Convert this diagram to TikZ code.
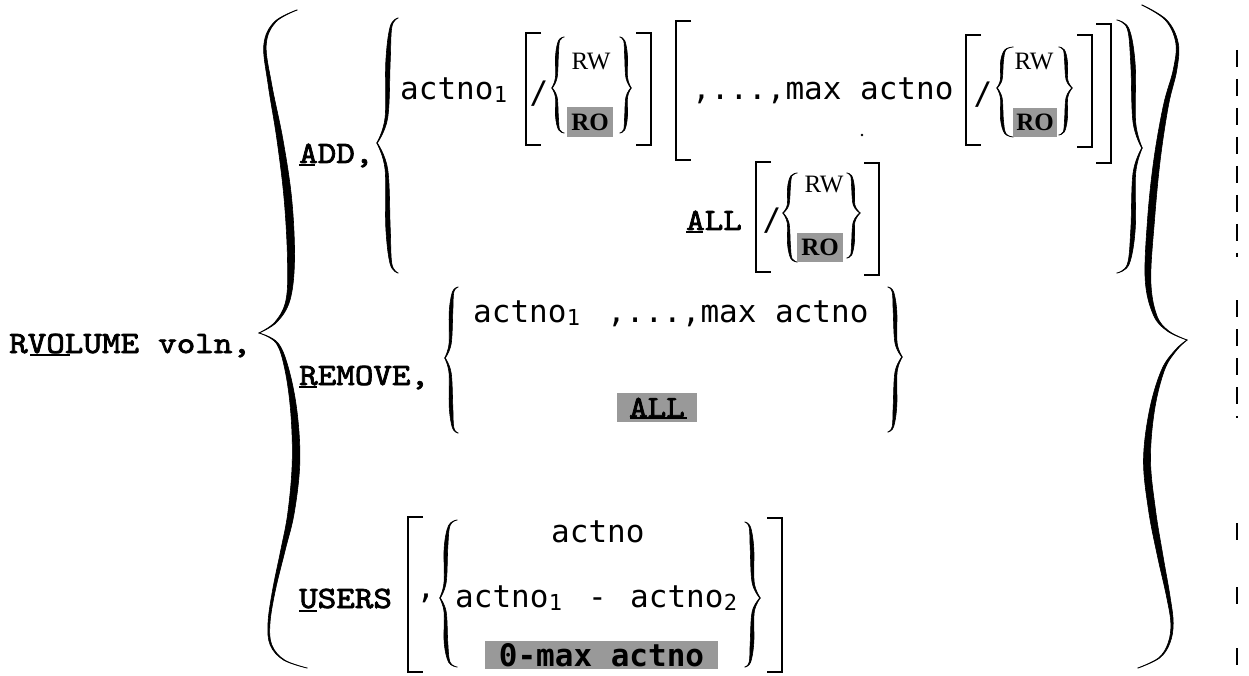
\documentclass[tikz,border=0pt]{standalone}
\usepackage{fontspec}
\newfontfamily\kwfamily{lmmono10-regular.otf}[FakeStretch=1.14, FakeBold=2.4]
\newfontfamily\argfamily{DejaVu Sans Mono}
\newfontfamily\rwfamily{Liberation Serif}
\newcommand\kwfont{\kwfamily\fontsize{31}{31}\selectfont}
\newcommand\argfont{\argfamily\fontsize{31}{31}\selectfont}
\newcommand\argbfont{\argfamily\bfseries\fontsize{31}{31}\selectfont}
\newcommand\subfont{\argfamily\fontsize{22}{22}\selectfont}
\newcommand\rwfont{\rwfamily\fontsize{25}{25}\selectfont}

\tikzset{
  kw/.style={font=\kwfont, inner sep=0pt, anchor=base west},
  arg/.style={font=\argfont, inner sep=0pt, anchor=base west},
  sub/.style={font=\subfont, inner sep=0pt, anchor=base west},
  mode/.style={font=\rwfont, inner sep=0pt, anchor=base},
  glyph/.style={font=\argfont, inner sep=0pt, anchor=center},
  hl/.style={fill=black!40, inner sep=0pt, anchor=center},
  ink/.style={fill=black, draw=black, line width=0.6pt, line join=round},
  bracket/.style={line width=2.6pt},
  ul/.style={line width=1.6pt},
  changebar/.style={line width=2pt, dash pattern=on 17pt off 12pt},
}

% one tapered arm of a brace: list of x/y/half-thickness along its centre line
\newcommand\edgelists[1]{%
  \gdef\leftpts{}\gdef\rightpts{}%
  \foreach \px/\py/\pt in {#1}{%
    \pgfmathsetmacro\lx{\px-\pt}\pgfmathsetmacro\rx{\px+\pt}%
    \xdef\leftpts{\leftpts (\lx,\py)}%
    \xdef\rightpts{(\rx,\py) \rightpts}%
  }}
\newcommand\armfill[1]{%
  \edgelists{#1}%
  \edef\armpath{\noexpand\fill[ink] plot[smooth,tension=0.6] coordinates {\leftpts} -- plot[smooth,tension=0.6] coordinates {\rightpts} -- cycle;}%
  \armpath}

% regular brace: sign (1 = opening, -1 = closing), spine x, top y, tip y, bottom y, tip depth, end curl, thickness
\newcommand\sbrace[8]{%
  \pgfmathsetmacro\hA{(#4)-(#3)}%
  \pgfmathsetmacro\hB{(#5)-(#4)}%
  \pgfmathsetmacro\xE{(#2)+(#1)*(#7)}%
  \pgfmathsetmacro\xA{(#2)+(#1)*0.3*(#7)}%
  \pgfmathsetmacro\xC{(#2)-(#1)*0.15*(#6)}%
  \pgfmathsetmacro\xT{(#2)-(#1)*(#6)}%
  \pgfmathsetmacro\tA{0.4*(#8)}%
  \pgfmathsetmacro\tC{0.6*(#8)}%
  \pgfmathsetmacro\yA{(#3)+0.07*\hA}%
  \pgfmathsetmacro\yB{(#3)+0.35*\hA}%
  \pgfmathsetmacro\yC{(#4)-0.2*\hA}%
  \edef\armlist{\xE/#3/0.3,\xA/\yA/\tA,#2/\yB/#8,\xC/\yC/\tC,\xT/#4/0.3}%
  \expandafter\armfill\expandafter{\armlist}%
  \pgfmathsetmacro\yA{(#5)-0.07*\hB}%
  \pgfmathsetmacro\yB{(#5)-0.35*\hB}%
  \pgfmathsetmacro\yC{(#4)+0.2*\hB}%
  \edef\armlist{\xT/#4/0.3,\xC/\yC/\tC,#2/\yB/#8,\xA/\yA/\tA,\xE/#5/0.3}%
  \expandafter\armfill\expandafter{\armlist}%
}
% square brackets: x of the stroke, top y, bottom y
\newcommand\lbrk[3]{\draw[bracket] (#1+15,#2) -- (#1,#2) -- (#1,#3) -- (#1+15,#3);}
\newcommand\rbrk[3]{\draw[bracket] (#1-15,#2) -- (#1,#2) -- (#1,#3) -- (#1-15,#3);}

\begin{document}
\begin{tikzpicture}[x=1pt,y=-1pt]
\fill[white] (0,0) rectangle (1249,676);
\useasboundingbox (0,0) rectangle (1249,676);

% command
\node[kw] (cmd) at (9,353) {RVOLUME};
\node[kw] (voln) at (158,353) {voln,};
\draw[ul] (30,355) -- (70,355);

% outer braces
\armfill{297/10/0.4, 275/22/0.8, 265/45/1.2, 270/85/1.8, 280/140/3, 288/200/3.8, 291/260/3.5, 288/300/2, 276/322/1, 259/333/0.3}
\armfill{259/333/0.3, 277/343/1, 287/370/2, 294/413/3.2, 296/463/3.8, 291/513/3.2, 283/550/2.2, 274/590/1.4, 269/623/1, 271/645/0.8, 284/660/0.6, 307/668/0.4}
\armfill{1142/5/0.4, 1166/20/0.8, 1177/43/1.2, 1175/70/1.8, 1166/105/2.5, 1157/160/3.2, 1151/220/3.5, 1148/280/2.8, 1155/315/1.6, 1168/331/0.8, 1187/340/0.3}
\armfill{1187/340/0.3, 1176/350/0.8, 1163/370/1.5, 1152/410/2.5, 1147/460/3.5, 1152/510/3.5, 1160/555/2.8, 1168/595/1.8, 1172/623/1.2, 1169/643/0.9, 1159/658/0.6, 1138/668/0.4}

% ---------------- ADD
\node[kw] (add) at (299,163) {ADD,};
\draw[ul] (299,165) -- (315,165);
\sbrace{1}{388}{18}{143}{273}{11}{10}{2.2}
\sbrace{-1}{1133}{20}{148}{273}{9}{16}{2.2}

% first line
\node[arg] (a1) at (400,100) {actno};
\node[sub] (a1s) at ([yshift=-3pt]a1.base east) {1};
\lbrk{526}{33}{145}
\node[glyph] (sl1) at (539,94) {/};
\sbrace{1}{557}{37}{88}{133}{5}{7}{1.4}
\node[mode] (rw1) at (591,70) {RW};
\node[hl, minimum width=46pt, minimum height=30pt] (ro1) at (590,122) {\rwfont\bfseries RO};
\sbrace{-1}{626}{37}{88}{133}{5}{6}{1.4}
\rbrk{651}{33}{145}

\lbrk{676}{21}{160}
\node[arg] (rng1) at (692,100) {,...,max actno};
\lbrk{966}{35}{145}
\node[glyph] (sl2) at (983,95) {/};
\sbrace{1}{1002}{47}{88}{137}{5}{11}{1.4}
\node[mode] (rw2) at (1034,70) {RW};
\node[hl, minimum width=44pt, minimum height=29pt] (ro2) at (1035,122.5) {\rwfont\bfseries RO};
\sbrace{-1}{1066}{47}{88}{135}{6}{7}{1.4}
\rbrk{1092}{35}{147}
\rbrk{1111}{24}{163}
\fill (862,135) circle (1.3);

% second line
\node[kw] (all1) at (686,230) {ALL};
\draw[ul] (686,232) -- (703,232);
\lbrk{756}{162}{272}
\node[glyph] (sl3) at (772,221) {/};
\sbrace{1}{789}{173}{213}{262}{6}{8}{1.4}
\node[mode] (rw3) at (824,193) {RW};
\node[hl, minimum width=46pt, minimum height=29pt] (ro3) at (820,247.5) {\rwfont\bfseries RO};
\sbrace{-1}{853}{173}{213}{258}{7}{6}{1.4}
\rbrk{879}{163}{275}

% ---------------- REMOVE
\node[kw] (rem) at (299,385) {REMOVE,};
\draw[ul] (299,387) -- (317,387);
\sbrace{1}{451}{287}{358}{433}{6}{7}{1.8}
\node[arg] (a2) at (473,322) {actno};
\node[sub] (a2s) at ([yshift=-3pt]a2.base east) {1};
\node[arg] (rng2) at (607,322) {,...,max actno};
\node[hl, minimum width=80pt, minimum height=29pt] (all2) at (657,407.5) {\kwfont ALL};
\draw[ul] (630,418) -- (687,418);
\sbrace{-1}{895}{287}{357}{432}{7}{7}{1.8}

% ---------------- USERS
\node[kw] (usr) at (299,608) {USERS};
\draw[ul] (299,611) -- (317,611);
\lbrk{408}{517}{672}
\node[glyph] (cm) at (426,598) {,};
\sbrace{1}{446}{520}{598}{667}{6}{11}{1.8}
\node[arg] (a3) at (551,542) {actno};
\node[arg] (a4) at (455,607) {actno};
\node[sub] (a4s) at ([yshift=-3pt]a4.base east) {1};
\node[arg] (dash) at (588,607) {-};
\node[arg] (a5) at (630,607) {actno};
\node[sub] (a5s) at ([yshift=-3pt]a5.base east) {2};
\node[hl, minimum width=233pt, minimum height=28pt] (zmax) at (601.5,655) {\argbfont 0-max actno};
\sbrace{-1}{752}{522}{598}{667}{8}{7}{1.8}
\rbrk{782}{518}{672}

% change bar
\draw[changebar] (1237,50) -- (1237,257);
\draw[changebar] (1237,300) -- (1237,418);
\draw[changebar] (1237,523) -- (1237,545);
\draw[changebar] (1237,587) -- (1237,608);
\draw[changebar] (1237,648) -- (1237,672);
\end{tikzpicture}
\end{document}
